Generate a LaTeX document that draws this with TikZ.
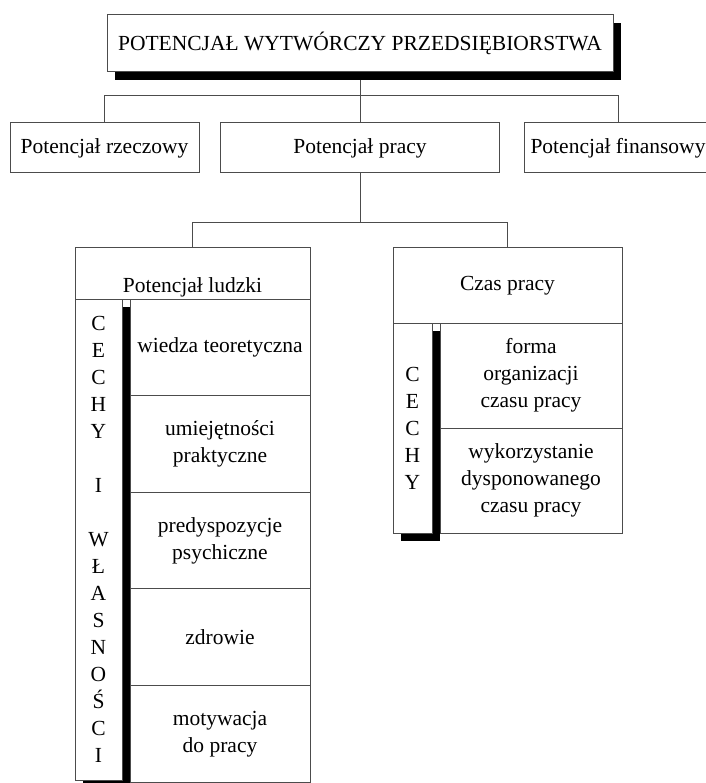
\documentclass[tikz,border=0pt]{standalone}
\usepackage{fontspec}
\setmainfont{Liberation Serif}
\usetikzlibrary{%
    backgrounds,
    shadows
}
\tikzset{
    boxline/.style = {draw=black!70, line width=1pt},
    unitbox/.style = {boxline, fill=white, inner sep=0pt, outer sep=0pt, align=center},
    mainbox/.style = {unitbox, drop shadow={shadow xshift=8pt, shadow yshift=-8pt, fill=black, opacity=1}},
    linkline/.style = {boxline}
}

\begin{document}
\begin{tikzpicture}[x=1pt, y=-1pt, font=\fontsize{21.5}{27}\selectfont]
    \useasboundingbox (0,0) rectangle (705,783);

    \node (top) [mainbox, minimum width=506pt, minimum height=57pt] at (360,43.5)
        {POTENCJAŁ WYTWÓRCZY PRZEDSIĘBIORSTWA};

    \node (rzecz)  [unitbox, minimum width=189pt, minimum height=50pt] at (104.5,148) {Potencjał rzeczowy};
    \node (praca)  [unitbox, minimum width=279pt, minimum height=50pt] at (360,148)   {Potencjał pracy};
    \node (finans) [unitbox, minimum width=188pt, minimum height=50pt] at (618,148)   {Potencjał finansowy};

    \node (ludzki) [unitbox, minimum width=235pt, minimum height=51pt,
                    text height=40pt, text depth=3pt] at (192.5,273.5) {Potencjał ludzki};
    \node (czas)   [unitbox, minimum width=229pt, minimum height=75pt] at (507.5,285.5) {Czas pracy};

    \node (cechyL) [mainbox, minimum width=47pt, minimum height=481pt] at (98.5,539.5)
        {C\\E\\C\\H\\Y\\[27pt]I\\[27pt]W\\Ł\\A\\S\\N\\O\\Ś\\C\\I};
    \node (cechyC) [mainbox, minimum width=39pt, minimum height=210pt] at (412.5,428)
        {C\\E\\C\\H\\Y};

    \foreach \Name/\Ypos/\Text in {%
        wiedza/347.3/{wiedza teoretyczna},
        umiej/443.9/{umiejętności\\praktyczne},
        predysp/540.5/{predyspozycje\\psychiczne},
        zdrowie/637.1/{zdrowie},
        motyw/733.7/{motywacja\\do pracy}%
    }
        \node (\Name) [unitbox, minimum width=180pt, minimum height=96.6pt] at (220,\Ypos) {\Text};

    \foreach \Name/\Ypos/\Text in {%
        forma/375.5/{forma\\organizacji\\czasu pracy},
        wykorz/480.5/{wykorzystanie\\dysponowanego\\czasu pracy}%
    }
        \node (\Name) [unitbox, minimum width=182pt, minimum height=105pt] at (531,\Ypos) {\Text};

    \coordinate (jtop) at (360,96);
    \coordinate (jmid) at (360,223);
    \begin{scope}[on background layer]
        \draw[linkline] (top) -- (jtop);
        \foreach \Target in {rzecz, praca, finans}
            \draw[linkline] (jtop) -| (\Target);
        \draw[linkline] (praca) -- (jmid);
        \foreach \Target in {ludzki, czas}
            \draw[linkline] (jmid) -| (\Target);
    \end{scope}
\end{tikzpicture}
\end{document}
